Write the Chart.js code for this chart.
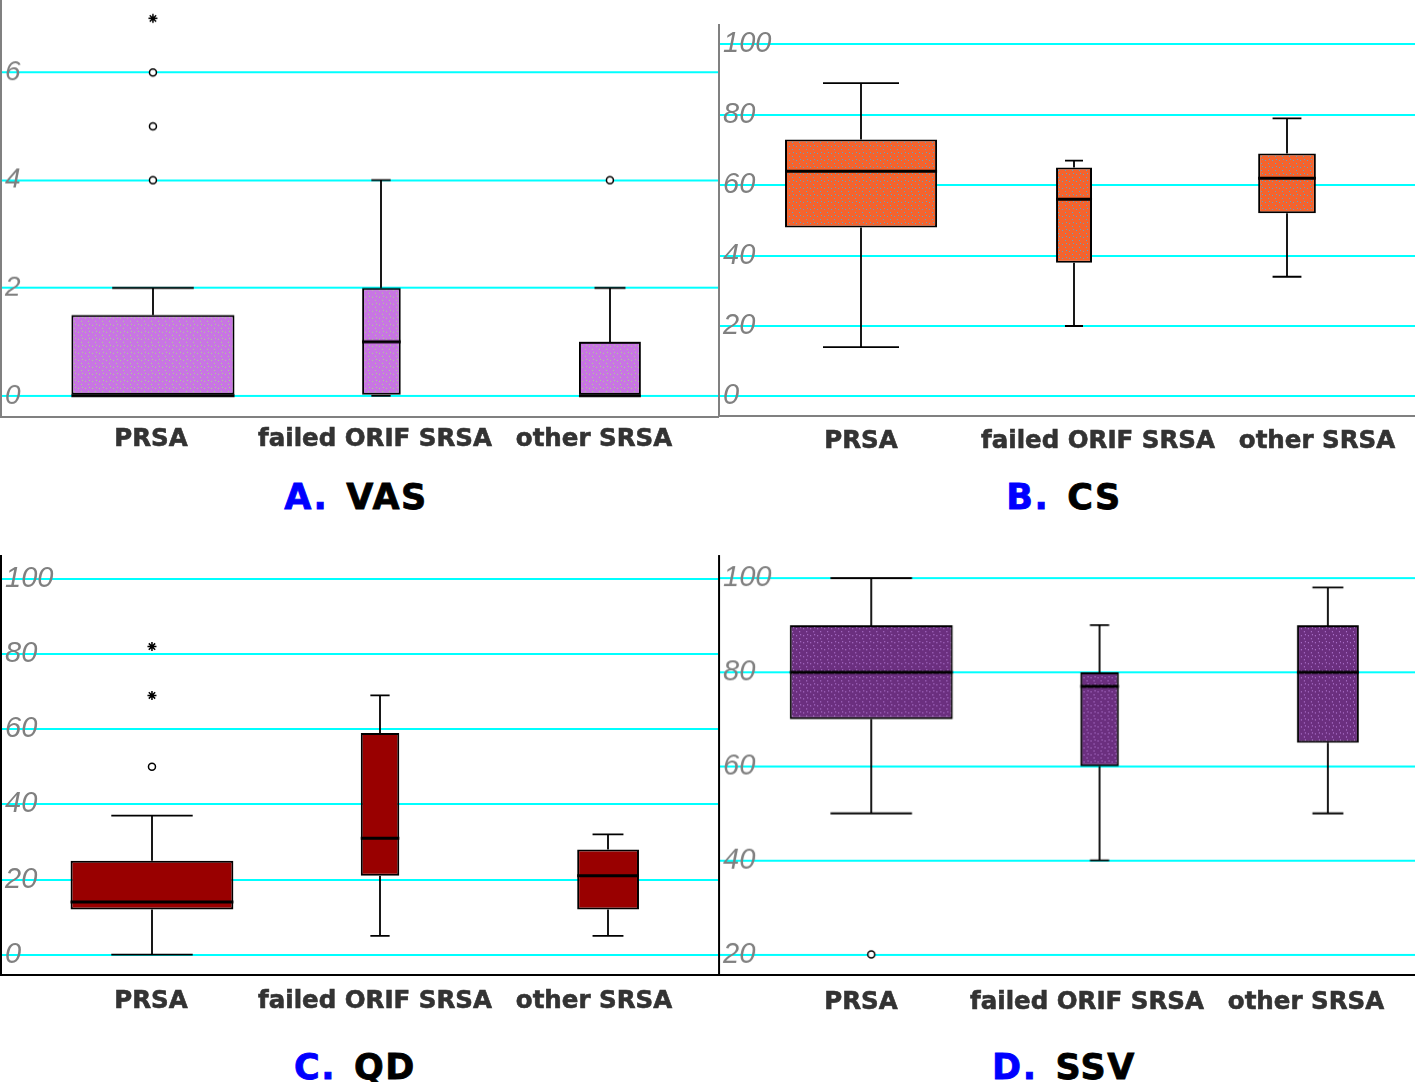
<!DOCTYPE html>
<html>
<head>
<meta charset="utf-8">
<script src="https://cdn.jsdelivr.net/npm/chart.js@4.4.1/dist/chart.umd.min.js"></script>
<style>
  html, body { margin: 0; padding: 0; background: #fff; }
  body { width: 1415px; height: 1082px; position: relative; overflow: hidden; }
  .plot { position: absolute; }
  .cat { position: absolute; font: bold 24.5px "DejaVu Sans", sans-serif; color: #333; -webkit-text-stroke: 0.6px #333; line-height: 1; white-space: nowrap; transform: translateX(-50%); }
  .title { position: absolute; font: bold 35px "DejaVu Sans", sans-serif; line-height: 1; white-space: nowrap; transform: translateX(-50%); letter-spacing: 1.5px; -webkit-text-stroke: 0.8px; }
  .title .key { color: #0000ff; -webkit-text-stroke-color: #0000ff; margin-right: 18px; }
  .title .name { color: #000; -webkit-text-stroke-color: #000; }
</style>
</head>
<body>
<script>
// Groups on every panel
const categories = ['PRSA', 'failed ORIF SRSA', 'other SRSA'];

// A. VAS
const vasMin = [0, 0, 0];
const vasQ1 = [0, 0, 0];
const vasMedian = [0, 1, 0];
const vasQ3 = [1.5, 2, 1];
const vasMax = [2, 4, 2];
const vasCircles = [[0, 4], [0, 5], [0, 6], [2, 4]]; // [group, value]
const vasStars = [[0, 7]];
const vasTicks = [0, 2, 4, 6];

// B. CS
const csMin = [14, 20, 34];
const csQ1 = [48, 38, 52];
const csMedian = [64, 56, 62];
const csQ3 = [73, 65, 69];
const csMax = [89, 67, 79];
const csCircles = [];
const csStars = [];
const csTicks = [0, 20, 40, 60, 80, 100];

// C. QD
const qdMin = [0, 5, 5];
const qdQ1 = [12, 21, 12];
const qdMedian = [14, 31, 21];
const qdQ3 = [25, 59, 28];
const qdMax = [37, 69, 32];
const qdCircles = [[0, 50]];
const qdStars = [[0, 69], [0, 82]];
const qdTicks = [0, 20, 40, 60, 80, 100];

// D. SSV
const ssvMin = [50, 40, 50];
const ssvQ1 = [70, 60, 65];
const ssvMedian = [80, 77, 80];
const ssvQ3 = [90, 80, 90];
const ssvMax = [100, 90, 98];
const ssvCircles = [[0, 20]];
const ssvStars = [];
const ssvTicks = [20, 40, 60, 80, 100];

// Box widths as a share of the group spacing
const boxWidths = [0.714, 0.169, 0.271];

// Dotted fill like the original print
function dotPattern(base, dot) {
  const c = document.createElement('canvas');
  c.width = 7; c.height = 7;
  const g = c.getContext('2d');
  g.fillStyle = base;
  g.fillRect(0, 0, 7, 7);
  if (dot) {
    g.fillStyle = dot;
    g.fillRect(1, 2, 1, 1);
    g.fillRect(4, 5, 1, 1);
    g.fillRect(5, 1, 1, 1);
  }
  return g.createPattern(c, 'repeat');
}

const panels = [
  { key: 'A.', name: 'VAS', min: vasMin, q1: vasQ1, median: vasMedian, q3: vasQ3, max: vasMax,
    circles: vasCircles, stars: vasStars, ticks: vasTicks,
    fill: dotPattern('#c875e3', '#a8d48c'), axisColor: '#808080', tickSize: 28,
    area: { x: 1, y: 0, w: 717, h: 416 }, xRange: [0.335, 3.473], yRange: [-0.39, 7.345],
    labelY: 438, labelX: [151, 375, 594], titleX: 356, titleY: 497 },
  { key: 'B.', name: 'CS', min: csMin, q1: csQ1, median: csMedian, q3: csQ3, max: csMax,
    circles: csCircles, stars: csStars, ticks: csTicks,
    fill: dotPattern('#f4632d', '#5aa6c8'), axisColor: '#808080', tickSize: 29,
    area: { x: 719, y: 25, w: 696, h: 391 }, xRange: [0.333, 3.601], yRange: [-5.68, 105.4],
    labelY: 440, labelX: [861, 1098, 1317], titleX: 1064, titleY: 497 },
  { key: 'C.', name: 'QD', min: qdMin, q1: qdQ1, median: qdMedian, q3: qdQ3, max: qdMax,
    circles: qdCircles, stars: qdStars, ticks: qdTicks,
    fill: dotPattern('#990000', null), axisColor: '#000', tickSize: 29,
    area: { x: 1, y: 556, w: 717, h: 418.5 }, xRange: [0.338, 3.482], yRange: [-5.38, 106.0],
    labelY: 1000, labelX: [151, 375, 594], titleX: 355, titleY: 1067 },
  { key: 'D.', name: 'SSV', min: ssvMin, q1: ssvQ1, median: ssvMedian, q3: ssvQ3, max: ssvMax,
    circles: ssvCircles, stars: ssvStars, ticks: ssvTicks,
    fill: dotPattern('#6b2f7f', '#c38ae6'), axisColor: '#000', tickSize: 29,
    area: { x: 719, y: 556.5, w: 696, h: 418 }, xRange: [0.333, 3.386], yRange: [15.57, 104.6],
    labelY: 1001, labelX: [861, 1087, 1306], titleX: 1064, titleY: 1067 }
];

// Whiskers, caps and medians on top of the floating bars
function whiskerPlugin(p) {
  return {
    id: 'whiskers',
    beforeDatasetsDraw(chart) {
      const { ctx, scales: { x, y } } = chart;
      ctx.save();
      ctx.strokeStyle = '#000';
      ctx.lineWidth = 1.8;
      categories.forEach((c, i) => {
        const box = chart.getDatasetMeta(i).data[0];
        const cx = Math.round(x.getPixelForValue(i + 1));
        const half = box.width / 4;
        const yMax = y.getPixelForValue(p.max[i]);
        const yMin = y.getPixelForValue(p.min[i]);
        ctx.beginPath();
        ctx.moveTo(cx, y.getPixelForValue(p.q3[i]));
        ctx.lineTo(cx, yMax);
        ctx.moveTo(cx - half, yMax);
        ctx.lineTo(cx + half, yMax);
        ctx.moveTo(cx, y.getPixelForValue(p.q1[i]));
        ctx.lineTo(cx, yMin);
        ctx.moveTo(cx - half, yMin);
        ctx.lineTo(cx + half, yMin);
        ctx.stroke();
      });
      ctx.restore();
    },
    afterDatasetsDraw(chart) {
      const { ctx, scales: { y } } = chart;
      ctx.save();
      ctx.strokeStyle = '#000';
      ctx.lineWidth = 3;
      categories.forEach((c, i) => {
        const box = chart.getDatasetMeta(i).data[0];
        const ym = y.getPixelForValue(p.median[i]);
        ctx.beginPath();
        ctx.moveTo(box.x - box.width / 2, ym);
        ctx.lineTo(box.x + box.width / 2, ym);
        ctx.stroke();
      });
      ctx.restore();
    }
  };
}

// Move the canvas so that its plot area lands where the original one is
function placeChart(chart, holder, area) {
  const a = chart.chartArea;
  const l = a.left, t = a.top, r = chart.width - a.right, b = chart.height - a.bottom;
  holder.style.left = (area.x - l) + 'px';
  holder.style.top = (area.y - t) + 'px';
  holder.style.width = (area.w + l + r) + 'px';
  holder.style.height = (area.h + t + b) + 'px';
  chart.resize();
}

panels.forEach(p => {
  const holder = document.createElement('div');
  holder.className = 'plot';
  holder.style.left = p.area.x + 'px';
  holder.style.top = p.area.y + 'px';
  holder.style.width = (p.area.w + 40) + 'px';
  holder.style.height = (p.area.h + 40) + 'px';
  const canvas = document.createElement('canvas');
  holder.appendChild(canvas);
  document.body.appendChild(holder);

  const boxSets = categories.map((c, i) => ({
    label: c,
    data: [{ x: i + 1, y: [p.q1[i], p.q3[i]] }],
    backgroundColor: p.fill,
    borderColor: '#000',
    borderWidth: 2,
    borderSkipped: false,
    grouped: false,
    barPercentage: boxWidths[i],
    categoryPercentage: 1
  }));

  const circleSet = {
    type: 'scatter',
    data: p.circles.map(([g, v]) => ({ x: g + 1, y: v })),
    pointStyle: 'circle',
    pointRadius: 3.5,
    pointBorderWidth: 1.5,
    pointBorderColor: '#000',
    pointBackgroundColor: '#fff'
  };
  const starSet = {
    type: 'scatter',
    data: p.stars.map(([g, v]) => ({ x: g + 1, y: v })),
    pointStyle: 'star',
    pointRadius: 4.5,
    pointBorderWidth: 1.5,
    pointBorderColor: '#000'
  };

  const chart = new Chart(canvas, {
    type: 'bar',
    data: { datasets: [...boxSets, circleSet, starSet] },
    options: {
      responsive: true,
      maintainAspectRatio: false,
      animation: false,
      events: [],
      layout: { padding: 0 },
      plugins: { legend: { display: false }, tooltip: { enabled: false } },
      scales: {
        x: {
          type: 'linear',
          min: p.xRange[0],
          max: p.xRange[1],
          offset: false,
          grid: { display: false, drawTicks: false },
          border: { display: true, color: p.axisColor, width: 2 },
          ticks: { display: false },
          afterBuildTicks: ax => { ax.ticks = categories.map((c, i) => ({ value: i + 1 })); }
        },
        y: {
          type: 'linear',
          min: p.yRange[0],
          max: p.yRange[1],
          grid: { color: '#00ffff', lineWidth: 2, drawTicks: false },
          border: { display: true, color: p.axisColor, width: 2 },
          ticks: {
            mirror: true,
            padding: 4,
            color: '#808080',
            font: { family: '"Liberation Sans", Arial, sans-serif', style: 'italic', size: p.tickSize }
          },
          afterBuildTicks: ax => { ax.ticks = p.ticks.map(v => ({ value: v })); }
        }
      }
    },
    plugins: [whiskerPlugin(p)]
  });
  placeChart(chart, holder, p.area);

  // Group names under the plot
  categories.forEach((c, i) => {
    const d = document.createElement('div');
    d.className = 'cat';
    d.textContent = c;
    d.style.left = p.labelX[i] + 'px';
    d.style.top = (p.labelY - 11.8) + 'px';
    document.body.appendChild(d);
  });

  // Panel title, letter in blue
  const t = document.createElement('div');
  t.className = 'title';
  t.style.left = p.titleX + 'px';
  t.style.top = (p.titleY - 17) + 'px';
  const k = document.createElement('span');
  k.className = 'key';
  k.textContent = p.key;
  const n = document.createElement('span');
  n.className = 'name';
  n.textContent = p.name;
  t.appendChild(k);
  t.appendChild(n);
  document.body.appendChild(t);
});
</script>
</body>
</html>
